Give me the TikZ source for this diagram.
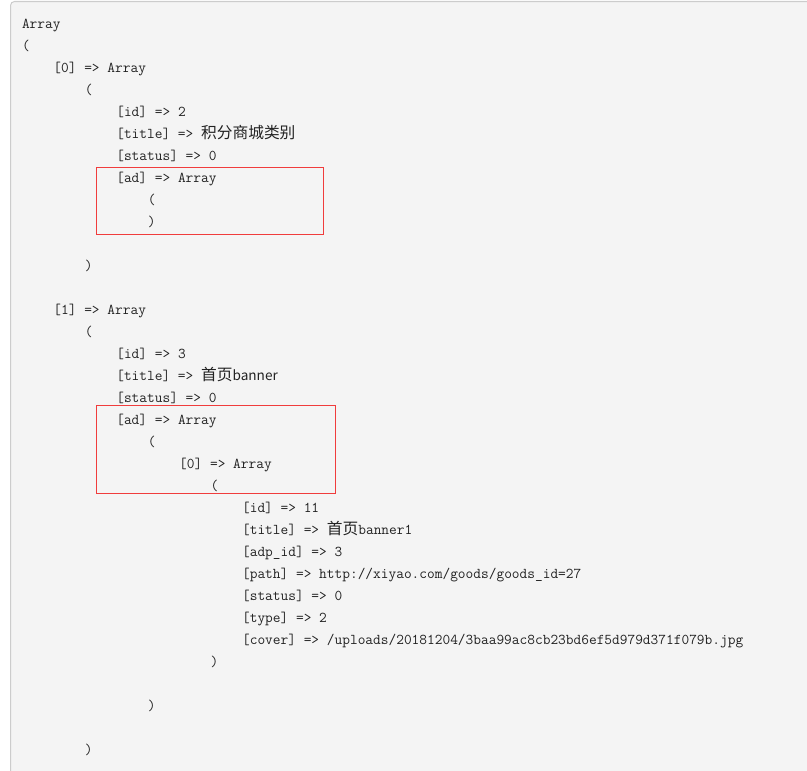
\documentclass[tikz,border=0pt]{standalone}
\usepackage{fontspec}
\newfontfamily\cjkfont{Noto Sans CJK SC}
\definecolor{bg}{HTML}{F4F4F4}
\definecolor{framecol}{HTML}{CCCCCC}
\definecolor{txt}{HTML}{222222}
\definecolor{markred}{HTML}{F03C3C}
\newcommand\zh[1]{{\fontsize{11.79}{13}\cjkfont #1}}
\newcommand\zhlat[1]{{\fontsize{10.2}{13}\cjkfont #1}}
\tikzset{
  codeline/.style={anchor=base west, inner sep=0pt, outer sep=0pt, text=txt,
    font=\fontsize{11.23}{13}\ttfamily},
  markbox/.style={draw=markred, line width=0.75pt},
}
\newcommand\codeln[4]{\node[codeline] (#1) at ({22+7.86*#3},{28.5+22*#2}) {#4};}
\begin{document}
\begin{tikzpicture}[x=0.75pt,y=-0.75pt]
\useasboundingbox (0,0) rectangle (807,771);
\fill[bg, rounded corners=3pt] (10.5,1.5) rectangle (812,776);
\draw[framecol, line width=0.75pt, rounded corners=3pt] (10.5,776) -- (10.5,1.5) -- (812,1.5);
\codeln{l0}{0}{0}{Array}
\codeln{l1}{1}{0}{(}
\codeln{l2}{2}{4}{[0] => Array}
\codeln{l3}{3}{8}{(}
\codeln{l4}{4}{12}{[id] => 2}
\codeln{l5}{5}{12}{[title] => \zh{积分商城类别}}
\codeln{l6}{6}{12}{[status] => 0}
\codeln{l7}{7}{12}{[ad] => Array}
\codeln{l8}{8}{16}{(}
\codeln{l9}{9}{16}{)}
\codeln{l11}{11}{8}{)}
\codeln{l13}{13}{4}{[1] => Array}
\codeln{l14}{14}{8}{(}
\codeln{l15}{15}{12}{[id] => 3}
\codeln{l16}{16}{12}{[title] => \zh{首页}\zhlat{banner}}
\codeln{l17}{17}{12}{[status] => 0}
\codeln{l18}{18}{12}{[ad] => Array}
\codeln{l19}{19}{16}{(}
\codeln{l20}{20}{20}{[0] => Array}
\codeln{l21}{21}{24}{(}
\codeln{l22}{22}{28}{[id] => 11}
\codeln{l23}{23}{28}{[title] => \zh{首页}banner1}
\codeln{l24}{24}{28}{[adp\_id] => 3}
\codeln{l25}{25}{28}{[path] => http://xiyao.com/goods/goods\_id=27}
\codeln{l26}{26}{28}{[status] => 0}
\codeln{l27}{27}{28}{[type] => 2}
\codeln{l28}{28}{28}{[cover] => /uploads/20181204/3baa99ac8cb23bd6ef5d979d371f079b.jpg}
\codeln{l29}{29}{24}{)}
\codeln{l31}{31}{16}{)}
\codeln{l33}{33}{8}{)}
\draw[markbox] (96.5,167.5) rectangle (323.5,234);
\draw[markbox] (96.5,405.5) rectangle (335.5,493);
\end{tikzpicture}
\end{document}
